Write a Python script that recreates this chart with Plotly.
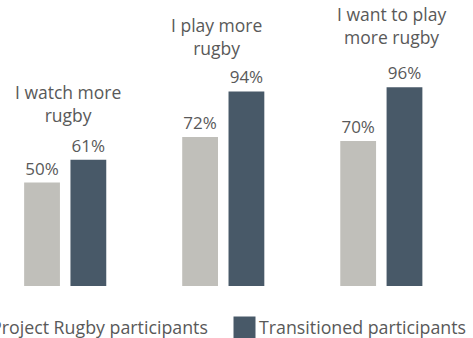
import plotly.graph_objects as go

# Survey statements and the share of each group agreeing
statements = ["I watch more<br>rugby", "I play more<br>rugby", "I want to play<br>more rugby"]
project_rugby = [50, 72, 70]
transitioned = [61, 94, 96]
series_names = ["Project Rugby participants", "Transitioned participants"]

GREY = "#C0BFBA"
SLATE = "#485968"
TEXT = "#595959"
FONT = "Open Sans"

W, H = 473, 338
TOP, BOTTOM = 79, 52          # plot area margins (px)
PLOT_H = H - TOP - BOTTOM


def py(pixel_y):
    """Convert a pixel row to plot-area paper coordinates."""
    return (H - BOTTOM - pixel_y) / PLOT_H


def px(pixel_x):
    return pixel_x / W


cats = ["c0", "c1", "c2"]

fig = go.Figure()
for name, vals, color in [(series_names[0], project_rugby, GREY),
                          (series_names[1], transitioned, SLATE)]:
    fig.add_trace(go.Bar(
        x=cats, y=vals, name=name,
        marker=dict(color=color, line=dict(width=0)),
        text=[f"{v}%" for v in vals],
        textposition="outside",
        textfont=dict(family=FONT, size=17, color=TEXT),
        cliponaxis=False,
        showlegend=False,
        hoverinfo="skip",
    ))

# Statement titles above each pair of bars (block centre in px)
title_pos = [(68.2, 103.6), (216.4, 36.5), (391.6, 25.6)]
for text, (xp, yp) in zip(statements, title_pos):
    fig.add_annotation(
        x=px(xp), xref="paper", y=py(yp), yref="paper",
        xanchor="center", yanchor="middle", align="center",
        text=text, showarrow=False,
        font=dict(family=FONT, size=17.5, color=TEXT),
    )

# Legend drawn as swatches and labels along the bottom
SW = 22
legend_items = [
    (series_names[0], GREY, -34.5),
    (series_names[1], SLATE, 233.5),
]
for name, color, x0 in legend_items:
    fig.add_shape(
        type="rect", xref="paper", yref="paper",
        x0=px(x0), x1=px(x0 + SW), y0=py(316.5 + SW), y1=py(316.5),
        fillcolor=color, line=dict(width=0), layer="above",
    )
    fig.add_annotation(
        x=px(x0 + SW + 1), xref="paper", y=py(327), yref="paper",
        xanchor="left", yanchor="middle", text=name, showarrow=False,
        font=dict(family=FONT, size=17.8, color=TEXT),
    )

fig.update_layout(
    width=W, height=H,
    margin=dict(l=0, r=0, t=TOP, b=BOTTOM, pad=0),
    paper_bgcolor="white", plot_bgcolor="white",
    barmode="group", bargap=0.414, bargroupgap=0.227,
    showlegend=False,
    xaxis=dict(type="category", range=[-0.4125, 2.580], visible=False,
               showgrid=False, zeroline=False, fixedrange=True),
    yaxis=dict(range=[0, 100], visible=False, showgrid=False,
               zeroline=False, fixedrange=True),
)

fig.write_html("out.html")
